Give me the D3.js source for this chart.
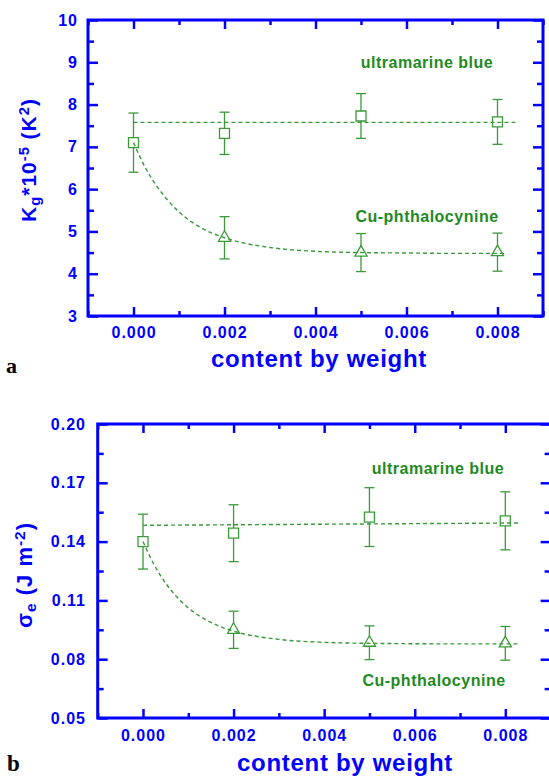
<!DOCTYPE html>
<html>
<head>
<meta charset="utf-8">
<script src="https://cdn.jsdelivr.net/npm/d3@7"></script>
<style>
  html, body { margin: 0; padding: 0; background: #ffffff; }
  svg { display: block; }
</style>
</head>
<body>
<svg id="chart" width="549" height="777"></svg>
<script>
// ---- shared x values (content by weight) ----
const xMajorTicks = [0, 0.002, 0.004, 0.006, 0.008];
const xTickLabels = ["0.000", "0.002", "0.004", "0.006", "0.008"];
const xMinorTicks = [-0.001, 0.001, 0.003, 0.005, 0.007, 0.009];
const blueX = [0, 0.002, 0.005, 0.008];
const cuX = [0.002, 0.005, 0.008];

// ---- panel a: Kg * 10^-5 (K^2) ----
const kgBlue = [7.10, 7.32, 7.73, 7.59];
const kgBlueErr = [0.70, 0.50, 0.53, 0.53];
const kgCu = [4.85, 4.50, 4.51];
const kgCuErr = [0.50, 0.45, 0.45];
const kgBlueFitX = [0, 0.0084];
const kgBlueFitY = [7.58, 7.58];
const kgCuFitX = [0, 0.00025, 0.0005, 0.00075, 0.001, 0.0015, 0.002, 0.0025, 0.003, 0.004, 0.005, 0.006, 0.007, 0.0082];
const kgCuFitY = [7.10, 6.53, 6.09, 5.74, 5.46, 5.08, 4.85, 4.71, 4.62, 4.53, 4.50, 4.49, 4.48, 4.48];
const kgMajorTicks = [3, 4, 5, 6, 7, 8, 9, 10];
const kgTickLabels = ["3", "4", "5", "6", "7", "8", "9", "10"];
const kgMinorTicks = [3.5, 4.5, 5.5, 6.5, 7.5, 8.5, 9.5];

// ---- panel b: sigma_e (J m^-2) ----
const sigBlue = [0.1400, 0.1443, 0.1525, 0.1506];
const sigBlueErr = [0.0140, 0.0145, 0.0150, 0.0148];
const sigCu = [0.0950, 0.0884, 0.0881];
const sigCuErr = [0.0095, 0.0086, 0.0086];
const sigBlueFitX = [0, 0.0083];
const sigBlueFitY = [0.1483, 0.1495];
const sigCuFitX = [0, 0.00025, 0.0005, 0.00075, 0.001, 0.0015, 0.002, 0.0025, 0.003, 0.004, 0.005, 0.006, 0.007, 0.0083];
const sigCuFitY = [0.1400, 0.1280, 0.1188, 0.1117, 0.1062, 0.0988, 0.0943, 0.0917, 0.0901, 0.0886, 0.0881, 0.0879, 0.0878, 0.0878];
const sigMajorTicks = [0.05, 0.08, 0.11, 0.14, 0.17, 0.20];
const sigTickLabels = ["0.05", "0.08", "0.11", "0.14", "0.17", "0.20"];
const sigMinorTicks = [0.065, 0.095, 0.125, 0.155, 0.185];

const AXIS_BLUE = "#0000ff";
const MARK_GREEN = "#3a9a3a";
const TEXT_GREEN = "#1e8a1e";
const FONT = "Arial, 'Liberation Sans', Helvetica, sans-serif";

const svg = d3.select("#chart");

function zip(xs, ys) { return xs.map((v, i) => [v, ys[i]]); }

function drawPanel(p) {
  const g = svg.append("g");
  const x = d3.scaleLinear().domain([-0.001, 0.009]).range([p.left, p.right]);
  const y = d3.scaleLinear().domain(p.yDomain).range([p.bottom, p.top]);

  const styleTicks = sel => {
    sel.select(".domain").remove();
    sel.selectAll(".tick line").attr("stroke", AXIS_BLUE).attr("stroke-width", 2.5);
    sel.selectAll(".tick text")
      .attr("fill", AXIS_BLUE)
      .style("font-family", FONT)
      .style("font-size", "16px")
      .style("font-weight", "bold")
      .style("letter-spacing", "1px");
  };

  // bottom axis: labelled major ticks and minor ticks, all pointing inward
  g.append("g").attr("transform", `translate(0,${p.bottom})`)
    .call(d3.axisBottom(x).tickValues(xMajorTicks).tickSize(-9).tickPadding(p.xPad)
      .tickFormat((d, i) => xTickLabels[i]))
    .call(styleTicks);
  g.append("g").attr("transform", `translate(0,${p.bottom})`)
    .call(d3.axisBottom(x).tickValues(xMinorTicks).tickSize(-5).tickFormat(""))
    .call(styleTicks);
  // top axis
  g.append("g").attr("transform", `translate(0,${p.top})`)
    .call(d3.axisTop(x).tickValues(xMajorTicks).tickSize(-9).tickFormat(""))
    .call(styleTicks);
  g.append("g").attr("transform", `translate(0,${p.top})`)
    .call(d3.axisTop(x).tickValues(xMinorTicks).tickSize(-5).tickFormat(""))
    .call(styleTicks);
  // left axis
  g.append("g").attr("transform", `translate(${p.left},0)`)
    .call(d3.axisLeft(y).tickValues(p.yMajor).tickSize(-10).tickPadding(p.yPad)
      .tickFormat((d, i) => p.yLabels[i]))
    .call(styleTicks);
  g.append("g").attr("transform", `translate(${p.left},0)`)
    .call(d3.axisLeft(y).tickValues(p.yMinor).tickSize(-6).tickFormat(""))
    .call(styleTicks);
  // right axis
  g.append("g").attr("transform", `translate(${p.right},0)`)
    .call(d3.axisRight(y).tickValues(p.yMajor).tickSize(-10).tickFormat(""))
    .call(styleTicks);
  g.append("g").attr("transform", `translate(${p.right},0)`)
    .call(d3.axisRight(y).tickValues(p.yMinor).tickSize(-6).tickFormat(""))
    .call(styleTicks);

  // frame
  g.append("rect")
    .attr("x", p.left).attr("y", p.top)
    .attr("width", p.right - p.left).attr("height", p.bottom - p.top)
    .attr("fill", "none").attr("stroke", AXIS_BLUE).attr("stroke-width", 3);

  // error bars
  const drawErr = (xs, ys, es) => {
    const eg = g.append("g").attr("stroke", MARK_GREEN).attr("stroke-width", 1.3).attr("fill", "none");
    xs.forEach((xv, i) => {
      const cx = x(xv), y1 = y(ys[i] + es[i]), y2 = y(ys[i] - es[i]);
      eg.append("line").attr("x1", cx).attr("x2", cx).attr("y1", y1).attr("y2", y2);
      eg.append("line").attr("x1", cx - 5).attr("x2", cx + 5).attr("y1", y1).attr("y2", y1);
      eg.append("line").attr("x1", cx - 5).attr("x2", cx + 5).attr("y1", y2).attr("y2", y2);
    });
  };
  drawErr(blueX, p.blue, p.blueErr);
  drawErr(cuX, p.cu, p.cuErr);

  // markers
  g.append("g").selectAll("path").data(zip(blueX, p.blue)).join("path")
    .attr("d", d3.symbol(d3.symbolSquare, 100)())
    .attr("transform", d => `translate(${x(d[0])},${y(d[1])})`)
    .attr("fill", "#ffffff").attr("stroke", MARK_GREEN).attr("stroke-width", 1.3);
  g.append("g").selectAll("path").data(zip(cuX, p.cu)).join("path")
    .attr("d", d3.symbol(d3.symbolTriangle, 64)())
    .attr("transform", d => `translate(${x(d[0])},${y(d[1])})`)
    .attr("fill", "#ffffff").attr("stroke", MARK_GREEN).attr("stroke-width", 1.3);

  // fitted curves
  const line = d3.line().x(d => x(d[0])).y(d => y(d[1])).curve(d3.curveMonotoneX);
  [zip(p.blueFitX, p.blueFitY), zip(p.cuFitX, p.cuFitY)].forEach(pts => {
    g.append("path").attr("d", line(pts))
      .attr("fill", "none").attr("stroke", MARK_GREEN)
      .attr("stroke-width", 1.4).attr("stroke-dasharray", "4,3");
  });

  // series labels
  p.notes.forEach(n => {
    g.append("text").attr("x", n.x).attr("y", n.y)
      .attr("text-anchor", "middle").attr("fill", TEXT_GREEN)
      .style("font-family", FONT).style("font-size", "16px").style("font-weight", "bold")
      .style("letter-spacing", "0.5px")
      .text(n.text);
  });

  // x-axis title
  g.append("text").attr("x", p.xTitle[0]).attr("y", p.xTitle[1])
    .attr("text-anchor", "middle").attr("fill", AXIS_BLUE)
    .style("font-family", FONT).style("font-size", "24px").style("font-weight", "bold")
    .style("letter-spacing", "0.7px")
    .text("content by weight");

  // y-axis title (rotated, with sub/superscripts)
  const yt = g.append("text")
    .attr("transform", `translate(${p.yTitle[0]},${p.yTitle[1]}) rotate(-90)`)
    .attr("text-anchor", "middle").attr("fill", AXIS_BLUE)
    .style("font-family", FONT).style("font-size", p.yTitleSize + "px").style("font-weight", "bold")
    .style("letter-spacing", "1px");
  p.yTitleParts.forEach(part => {
    const ts = yt.append("tspan").text(part.t);
    if (part.sub) ts.attr("baseline-shift", "-25%").style("font-size", "70%");
    if (part.sup) ts.attr("baseline-shift", "45%").style("font-size", "70%");
  });

  // panel letter
  svg.append("text").attr("x", p.letter[0]).attr("y", p.letter[1])
    .attr("fill", "#000000")
    .style("font-family", "'Liberation Serif', 'Times New Roman', serif")
    .style("font-size", p.letter[3] + "px").style("font-weight", "bold")
    .text(p.letter[2]);
}

drawPanel({
  left: 88, right: 543, top: 20, bottom: 316,
  yDomain: [3, 10], yMajor: kgMajorTicks, yLabels: kgTickLabels, yMinor: kgMinorTicks,
  xPad: 11, yPad: 10,
  blue: kgBlue, blueErr: kgBlueErr, cu: kgCu, cuErr: kgCuErr,
  blueFitX: kgBlueFitX, blueFitY: kgBlueFitY, cuFitX: kgCuFitX, cuFitY: kgCuFitY,
  notes: [
    { text: "ultramarine blue", x: 427, y: 68 },
    { text: "Cu-phthalocynine", x: 427, y: 222 }
  ],
  xTitle: [319, 367],
  yTitle: [36, 160], yTitleSize: 21,
  yTitleParts: [{ t: "K" }, { t: "g", sub: true }, { t: "*10" }, { t: "-5", sup: true },
                { t: " (K" }, { t: "2", sup: true }, { t: ")" }],
  letter: [6, 373, "a", 22]
});

drawPanel({
  left: 97.7, right: 550.6, top: 424, bottom: 718,
  yDomain: [0.05, 0.20], yMajor: sigMajorTicks, yLabels: sigTickLabels, yMinor: sigMinorTicks,
  xPad: 12, yPad: 11.7,
  blue: sigBlue, blueErr: sigBlueErr, cu: sigCu, cuErr: sigCuErr,
  blueFitX: sigBlueFitX, blueFitY: sigBlueFitY, cuFitX: sigCuFitX, cuFitY: sigCuFitY,
  notes: [
    { text: "ultramarine blue", x: 438, y: 474 },
    { text: "Cu-phthalocynine", x: 434, y: 686 }
  ],
  xTitle: [345, 771],
  yTitle: [32, 575], yTitleSize: 22,
  yTitleParts: [{ t: "σ" }, { t: "e", sub: true }, { t: " (J m" }, { t: "-2", sup: true }, { t: ")" }],
  letter: [7, 771, "b", 23]
});
</script>
</body>
</html>
